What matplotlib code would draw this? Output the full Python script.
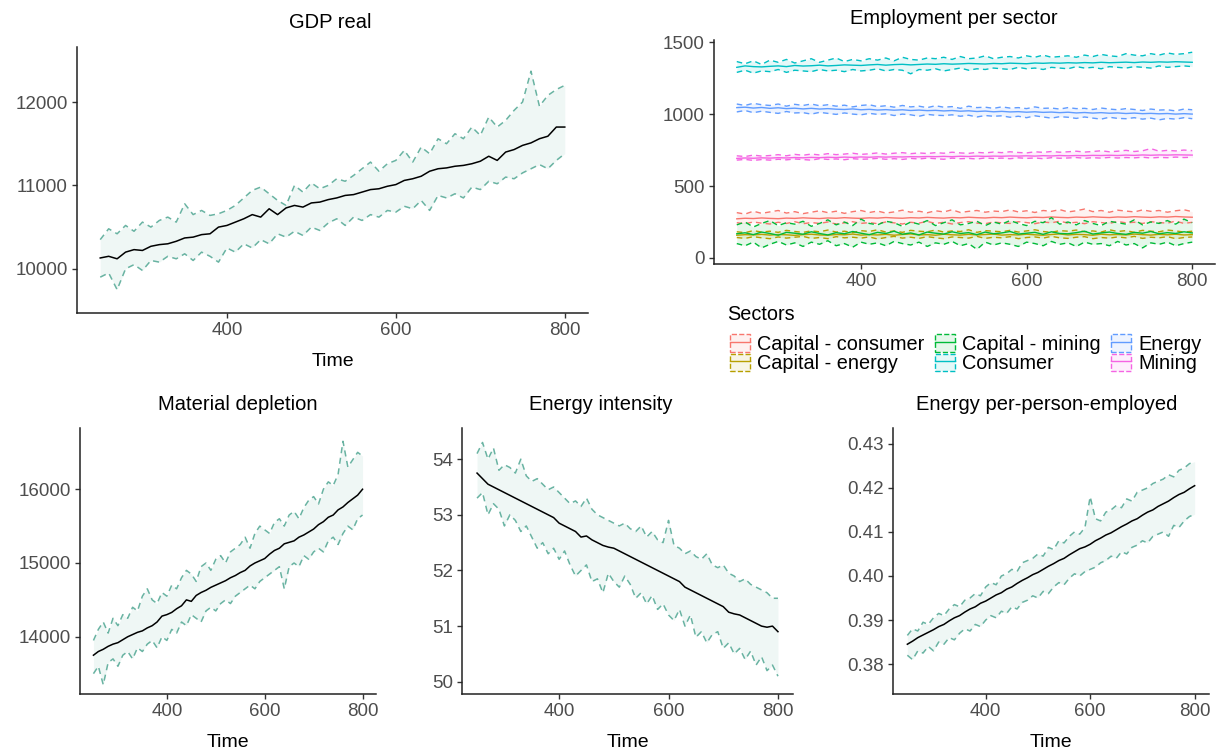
import numpy as np
import matplotlib.pyplot as plt
from matplotlib.patches import Patch
from matplotlib.lines import Line2D
from matplotlib.colors import to_rgba

plt.rcParams['font.family'] = ['Liberation Sans', 'DejaVu Sans']

# time axis (every 10 steps)
time = np.arange(250, 801, 10)

# ---- GDP real ----
gdp_mean = [10130, 10150, 10120, 10200, 10230, 10220, 10270, 10290,
            10300, 10330, 10370, 10380, 10410, 10420, 10500, 10520,
            10560, 10600, 10650, 10620, 10720, 10650, 10730, 10760,
            10740, 10790, 10800, 10830, 10850, 10880, 10890, 10920,
            10950, 10960, 10990, 11010, 11060, 11080, 11110, 11170,
            11200, 11210, 11230, 11240, 11260, 11290, 11350, 11300,
            11400, 11430, 11480, 11510, 11560, 11590, 11700, 11700]
gdp_upper = [10350, 10480, 10420, 10520, 10450, 10560, 10500, 10580,
             10620, 10560, 10780, 10650, 10700, 10640, 10660, 10700,
             10760, 10850, 10940, 10980, 10900, 10820, 10760, 11000,
             10920, 11030, 10960, 11000, 11080, 11050, 11120, 11200,
             11280, 11170, 11260, 11300, 11420, 11280, 11460, 11380,
             11560, 11500, 11620, 11560, 11700, 11600, 11820, 11700,
             11780, 11900, 12000, 12370, 11950, 12080, 12150, 12200]
gdp_lower = [9900, 9950, 9750, 10000, 10050, 9980, 10100, 10080,
             10150, 10120, 10180, 10100, 10200, 10150, 10080, 10250,
             10200, 10300, 10250, 10350, 10300, 10420, 10380, 10450,
             10400, 10500, 10460, 10550, 10600, 10520, 10620, 10580,
             10650, 10620, 10700, 10680, 10750, 10720, 10820, 10700,
             10880, 10850, 10900, 10850, 10980, 10950, 11050, 11020,
             11100, 11080, 11150, 11200, 11250, 11200, 11300, 11380]

# ---- Material depletion ----
mat_mean = [13750, 13800, 13830, 13870, 13900, 13920, 13960, 14000,
            14030, 14060, 14080, 14120, 14150, 14200, 14280, 14300,
            14330, 14380, 14420, 14500, 14480, 14560, 14600, 14630,
            14670, 14700, 14730, 14760, 14800, 14830, 14870, 14900,
            14960, 15000, 15030, 15060, 15120, 15170, 15200, 15260,
            15280, 15300, 15350, 15380, 15420, 15460, 15520, 15560,
            15620, 15650, 15720, 15760, 15820, 15870, 15920, 16000]
mat_upper = [13950, 14100, 14200, 14050, 14250, 14150, 14300, 14250,
             14400, 14350, 14550, 14650, 14500, 14450, 14600, 14550,
             14700, 14650, 14800, 14900, 14850, 14750, 14950, 15000,
             14900, 15050, 15100, 15000, 15150, 15200, 15250, 15350,
             15200, 15400, 15500, 15450, 15400, 15550, 15600, 15500,
             15650, 15700, 15600, 15750, 15850, 15900, 15800, 16000,
             16100, 16050, 16200, 16650, 16300, 16400, 16500, 16450]
mat_lower = [13500, 13600, 13350, 13650, 13700, 13600, 13750, 13800,
             13700, 13850, 13800, 13900, 13950, 13850, 14000, 13950,
             14100, 14050, 14200, 14150, 14300, 14250, 14200, 14350,
             14400, 14350, 14450, 14500, 14450, 14550, 14600, 14650,
             14700, 14650, 14750, 14800, 14850, 14900, 14950, 14650,
             14950, 15000, 14950, 15100, 15050, 15150, 15200, 15150,
             15300, 15350, 15250, 15400, 15500, 15450, 15600, 15650]

# ---- Energy intensity ----
ei_mean = [53.75, 53.65, 53.55, 53.50, 53.45, 53.40, 53.35, 53.30,
           53.25, 53.20, 53.15, 53.10, 53.05, 53.00, 52.95, 52.85,
           52.80, 52.75, 52.70, 52.60, 52.62, 52.55, 52.50, 52.45,
           52.42, 52.40, 52.35, 52.30, 52.25, 52.20, 52.15, 52.10,
           52.05, 52.00, 51.95, 51.90, 51.85, 51.80, 51.70, 51.65,
           51.60, 51.55, 51.50, 51.45, 51.40, 51.35, 51.25, 51.22,
           51.20, 51.15, 51.10, 51.05, 51.00, 50.98, 51.00, 50.90]
ei_upper = [54.10, 54.30, 54.00, 54.20, 53.80, 53.90, 53.85, 53.75,
            54.00, 53.70, 53.60, 53.65, 53.55, 53.45, 53.50, 53.40,
            53.30, 53.20, 53.25, 53.15, 53.30, 53.10, 53.00, 52.95,
            52.90, 52.85, 52.80, 52.85, 52.75, 52.70, 52.80, 52.60,
            52.70, 52.55, 52.50, 52.90, 52.45, 52.40, 52.30, 52.35,
            52.25, 52.20, 52.30, 52.10, 52.05, 52.10, 51.95, 51.90,
            51.80, 51.85, 51.75, 51.70, 51.65, 51.60, 51.50, 51.50]
ei_lower = [53.30, 53.40, 53.00, 53.20, 53.10, 52.80, 53.00, 52.90,
            52.70, 52.80, 52.60, 52.40, 52.50, 52.30, 52.40, 52.20,
            52.35, 52.10, 51.90, 52.00, 52.10, 51.80, 51.85, 51.60,
            51.95, 51.80, 51.70, 51.90, 51.75, 51.50, 51.60, 51.40,
            51.55, 51.30, 51.40, 51.20, 51.10, 51.30, 51.00, 51.20,
            50.80, 50.90, 50.70, 50.85, 50.90, 50.60, 50.70, 50.50,
            50.60, 50.40, 50.55, 50.30, 50.45, 50.20, 50.30, 50.10]

# ---- Energy per-person-employed ----
epp_mean = [0.3845, 0.3852, 0.3860, 0.3866, 0.3872, 0.3878, 0.3885, 0.3890,
            0.3898, 0.3905, 0.3910, 0.3918, 0.3925, 0.3930, 0.3938, 0.3943,
            0.3950, 0.3957, 0.3962, 0.3970, 0.3975, 0.3983, 0.3990, 0.3996,
            0.4003, 0.4008, 0.4015, 0.4022, 0.4028, 0.4035, 0.4040, 0.4048,
            0.4055, 0.4062, 0.4066, 0.4072, 0.4080, 0.4086, 0.4093, 0.4098,
            0.4105, 0.4112, 0.4118, 0.4125, 0.4130, 0.4138, 0.4145, 0.4150,
            0.4158, 0.4164, 0.4170, 0.4178, 0.4185, 0.4190, 0.4198, 0.4205]
epp_upper = [0.3865, 0.3880, 0.3875, 0.3895, 0.3890, 0.3905, 0.3915, 0.3910,
             0.3925, 0.3935, 0.3930, 0.3945, 0.3950, 0.3960, 0.3955, 0.3975,
             0.3985, 0.3980, 0.4000, 0.4005, 0.4015, 0.4010, 0.4030, 0.4035,
             0.4040, 0.4050, 0.4045, 0.4065, 0.4060, 0.4080, 0.4075, 0.4090,
             0.4100, 0.4095, 0.4110, 0.4180, 0.4130, 0.4125, 0.4145, 0.4150,
             0.4160, 0.4155, 0.4175, 0.4170, 0.4190, 0.4195, 0.4200, 0.4210,
             0.4215, 0.4220, 0.4230, 0.4225, 0.4240, 0.4245, 0.4255, 0.4260]
epp_lower = [0.3820, 0.3810, 0.3830, 0.3825, 0.3840, 0.3830, 0.3850, 0.3845,
             0.3860, 0.3855, 0.3870, 0.3880, 0.3875, 0.3890, 0.3885, 0.3900,
             0.3910, 0.3905, 0.3920, 0.3915, 0.3930, 0.3925, 0.3940, 0.3945,
             0.3955, 0.3950, 0.3965, 0.3960, 0.3975, 0.3985, 0.3980, 0.3995,
             0.4005, 0.4000, 0.4010, 0.4015, 0.4020, 0.4030, 0.4035, 0.4045,
             0.4040, 0.4055, 0.4050, 0.4065, 0.4070, 0.4080, 0.4075, 0.4090,
             0.4095, 0.4100, 0.4090, 0.4115, 0.4110, 0.4125, 0.4135, 0.4140]

# ---- Employment per sector ----
sectors = ['Capital - consumer', 'Capital - energy', 'Capital - mining',
           'Consumer', 'Energy', 'Mining']

cap_cons_mean = [272, 276, 274, 278, 275, 273, 277, 275, 279, 276, 274, 278, 276, 280,
                 277, 275, 279, 277, 281, 278, 276, 280, 278, 282, 279, 277, 281, 279,
                 283, 280, 278, 282, 280, 284, 281, 279, 283, 281, 285, 282, 280, 284,
                 282, 286, 283, 281, 285, 283, 287, 284, 282, 286, 284, 288, 285, 283]
cap_cons_upper = [315, 305, 325, 310, 320, 330, 312, 322, 308, 318, 328, 315, 325, 310,
                  322, 330, 316, 326, 312, 320, 332, 318, 325, 314, 328, 320, 335, 316,
                  324, 330, 318, 326, 322, 334, 320, 328, 316, 330, 324, 336, 320, 328,
                  340, 322, 330, 318, 332, 326, 320, 334, 324, 330, 318, 328, 335, 322]
cap_cons_lower = [245, 238, 250, 242, 236, 248, 240, 252, 238, 246, 240, 250, 236, 244,
                  252, 240, 246, 238, 250, 244, 236, 248, 242, 254, 240, 248, 236, 246,
                  252, 242, 238, 250, 244, 240, 252, 246, 238, 250, 244, 256, 242, 248,
                  238, 252, 246, 240, 254, 244, 248, 240, 252, 246, 242, 256, 240, 248]

cap_en_mean = [158, 162, 160, 164, 159, 163, 161, 157, 162, 165, 160, 158, 163, 161,
               166, 159, 162, 160, 164, 158, 163, 167, 160, 162, 158, 165, 161, 159,
               164, 160, 163, 166, 159, 162, 160, 165, 161, 158, 163, 167, 160, 164,
               162, 158, 165, 161, 163, 160, 166, 162, 159, 164, 161, 165, 160, 162]
cap_en_upper = [182, 176, 190, 180, 186, 178, 192, 184, 178, 188, 182, 194, 180, 186,
                176, 190, 184, 196, 180, 188, 178, 192, 186, 182, 194, 180, 188, 184,
                196, 178, 190, 186, 182, 192, 180, 188, 196, 184, 178, 190, 186, 194,
                182, 188, 180, 196, 184, 190, 178, 192, 186, 182, 194, 188, 180, 186]
cap_en_lower = [142, 136, 148, 140, 134, 146, 138, 144, 150, 136, 142, 134, 148, 140,
                144, 138, 146, 132, 142, 150, 138, 144, 136, 148, 140, 134, 146, 142,
                138, 150, 136, 144, 140, 148, 134, 142, 146, 138, 150, 140, 136, 144,
                148, 134, 142, 138, 146, 140, 150, 136, 144, 140, 148, 134, 142, 146]

cap_min_mean = [168, 175, 162, 180, 170, 158, 178, 172, 165, 182, 170, 160, 176, 168,
                184, 172, 162, 178, 170, 186, 165, 174, 160, 180, 172, 166, 182, 170,
                176, 162, 180, 168, 174, 184, 166, 172, 178, 164, 182, 170, 168, 176,
                186, 166, 174, 180, 170, 164, 178, 172, 184, 168, 176, 170, 182, 174]
cap_min_upper = [230, 250, 215, 240, 260, 225, 245, 235, 255, 220, 240, 265, 230, 250,
                 225, 270, 240, 230, 255, 245, 220, 250, 235, 260, 225, 245, 265, 230,
                 240, 255, 225, 250, 235, 260, 240, 225, 255, 245, 280, 235, 250, 230,
                 260, 240, 225, 255, 245, 235, 265, 230, 250, 240, 260, 235, 270, 245]
cap_min_lower = [100, 85, 110, 70, 95, 115, 90, 105, 80, 110, 95, 120, 85, 100,
                 75, 110, 95, 105, 85, 115, 100, 90, 110, 80, 105, 95, 115, 85,
                 100, 60, 110, 90, 105, 95, 80, 110, 100, 85, 115, 95, 105, 80,
                 110, 95, 100, 85, 115, 90, 100, 70, 105, 95, 110, 85, 100, 110]

cons_mean = [1325, 1335, 1330, 1328, 1332, 1335, 1330, 1338, 1334, 1336, 1340, 1335, 1338, 1342,
             1340, 1338, 1342, 1345, 1340, 1344, 1346, 1342, 1345, 1348, 1346, 1350, 1347, 1349,
             1352, 1350, 1348, 1352, 1350, 1354, 1352, 1350, 1355, 1353, 1356, 1354, 1357, 1355,
             1358, 1356, 1360, 1357, 1359, 1361, 1358, 1362, 1360, 1363, 1361, 1364, 1362, 1360]
cons_upper = [1365, 1350, 1370, 1345, 1375, 1360, 1380, 1355, 1370, 1385, 1360, 1375, 1390, 1365,
              1380, 1370, 1385, 1375, 1390, 1370, 1395, 1380, 1375, 1390, 1385, 1395, 1380, 1400,
              1385, 1390, 1405, 1385, 1395, 1400, 1390, 1405, 1395, 1410, 1395, 1400, 1405, 1395,
              1410, 1400, 1415, 1405, 1400, 1420, 1410, 1405, 1420, 1410, 1425, 1415, 1420, 1430]
cons_lower = [1290, 1305, 1285, 1300, 1295, 1310, 1290, 1305, 1300, 1295, 1310, 1300, 1305, 1295,
              1310, 1300, 1305, 1315, 1300, 1310, 1305, 1280, 1310, 1305, 1315, 1300, 1310, 1320,
              1305, 1315, 1310, 1320, 1315, 1310, 1325, 1315, 1320, 1310, 1325, 1320, 1315, 1330,
              1320, 1325, 1315, 1330, 1325, 1320, 1330, 1325, 1320, 1335, 1325, 1330, 1335, 1330]

en_mean = [1045, 1048, 1042, 1046, 1040, 1044, 1038, 1041, 1036, 1040, 1035, 1038, 1034, 1032,
           1036, 1030, 1033, 1028, 1031, 1027, 1030, 1025, 1028, 1024, 1026, 1022, 1025, 1020,
           1023, 1018, 1021, 1016, 1019, 1015, 1017, 1013, 1016, 1012, 1014, 1010, 1013, 1008,
           1011, 1007, 1010, 1006, 1008, 1004, 1007, 1003, 1005, 1002, 1004, 1000, 1003, 1000]
en_upper = [1070, 1060, 1075, 1065, 1060, 1070, 1055, 1068, 1060, 1070, 1058, 1065, 1055, 1062,
            1050, 1060, 1065, 1052, 1058, 1048, 1060, 1050, 1055, 1045, 1058, 1048, 1052, 1040,
            1055, 1045, 1048, 1040, 1050, 1042, 1045, 1038, 1050, 1040, 1042, 1035, 1045, 1038,
            1040, 1032, 1042, 1035, 1030, 1038, 1032, 1025, 1035, 1028, 1030, 1022, 1035, 1030]
en_lower = [1015, 1025, 1010, 1020, 1012, 1005, 1018, 1008, 1010, 1000, 1012, 1005, 998, 1008,
            1000, 995, 1005, 998, 1002, 990, 1000, 995, 985, 998, 992, 990, 995, 985,
            992, 980, 990, 985, 988, 978, 985, 975, 988, 980, 972, 982, 978, 970,
            980, 972, 965, 978, 970, 968, 975, 965, 972, 960, 970, 965, 975, 968]

min_mean = [692, 695, 693, 696, 694, 697, 695, 698, 696, 699, 697, 700, 698, 701,
            699, 702, 700, 703, 701, 703, 702, 704, 703, 705, 704, 706, 704, 707,
            705, 708, 706, 708, 707, 709, 708, 710, 708, 711, 709, 712, 710, 712,
            711, 713, 712, 714, 712, 715, 713, 716, 714, 716, 715, 717, 716, 715]
min_upper = [710, 705, 715, 708, 712, 718, 710, 720, 714, 722, 716, 725, 718, 722,
             728, 720, 724, 730, 722, 728, 732, 725, 730, 726, 732, 728, 735, 730,
             727, 734, 730, 736, 732, 738, 733, 730, 738, 734, 740, 735, 738, 742,
             736, 740, 745, 738, 742, 748, 740, 745, 760, 742, 748, 744, 750, 746]
min_lower = [680, 685, 678, 684, 680, 686, 682, 688, 684, 680, 690, 685, 688, 683,
             690, 686, 688, 692, 686, 690, 685, 692, 688, 694, 690, 686, 694, 690,
             692, 688, 695, 691, 694, 690, 696, 692, 695, 690, 697, 693, 695, 698,
             693, 697, 694, 699, 695, 698, 696, 700, 695, 699, 697, 701, 698, 700]

sector_colors = ['#F8766D', '#B79F00', '#00BA38', '#00BFC4', '#619CFF', '#F564E3']
sector_data = [(cap_cons_mean, cap_cons_upper, cap_cons_lower),
               (cap_en_mean, cap_en_upper, cap_en_lower),
               (cap_min_mean, cap_min_upper, cap_min_lower),
               (cons_mean, cons_upper, cons_lower),
               (en_mean, en_upper, en_lower),
               (min_mean, min_upper, min_lower)]

W, H = 1221, 751
band_col = '#69b3a2'
dash = (0, (4, 3))


def px_axes(fig, left, right, top, bottom):
    return fig.add_axes([left / W, 1 - bottom / H, (right - left) / W, (bottom - top) / H])


def style(ax, ylim, yticks, yfmt=None):
    ax.set_xlim(222.5, 827.5)
    ax.set_ylim(*ylim)
    ax.set_xticks([400, 600, 800])
    ax.set_yticks(yticks)
    if yfmt:
        ax.set_yticklabels([yfmt.format(v) for v in yticks])
    for s in ['top', 'right']:
        ax.spines[s].set_visible(False)
    for s in ['left', 'bottom']:
        ax.spines[s].set_linewidth(1.1)
        ax.spines[s].set_color('#222222')
    ax.tick_params(length=3.5, width=1, color='#333333', labelcolor='#4D4D4D',
                   labelsize=13.5, pad=3)
    ax.set_xlabel('Time', fontsize=14, color='black', labelpad=10)


def band_panel(ax, mean, upper, lower):
    ax.fill_between(time, lower, upper, color=band_col, alpha=0.1, lw=0)
    ax.plot(time, upper, color=band_col, lw=1.1, ls=dash)
    ax.plot(time, lower, color=band_col, lw=1.1, ls=dash)
    ax.plot(time, mean, color='black', lw=1.1)


fig = plt.figure(figsize=(W / 100, H / 100), dpi=100)

# GDP real
ax1 = px_axes(fig, 77, 588, 47, 313)
band_panel(ax1, gdp_mean, gdp_upper, gdp_lower)
style(ax1, (9470, 12660), [10000, 11000, 12000])
fig.text(330 / W, 1 - 23 / H, 'GDP real', ha='center', va='center', fontsize=14.5)

# Employment per sector
ax2 = px_axes(fig, 714, 1215, 40, 264)
for (m, u, l), c in zip(sector_data, sector_colors):
    ax2.fill_between(time, l, u, color=c, alpha=0.1, lw=0)
    ax2.plot(time, u, color=c, lw=1.0, ls=dash)
    ax2.plot(time, l, color=c, lw=1.0, ls=dash)
    ax2.plot(time, m, color=c, lw=1.0)
style(ax2, (-42, 1515), [0, 500, 1000, 1500])
ax2.set_xlabel('')
fig.text(954 / W, 1 - 18 / H, 'Employment per sector', ha='center', va='center', fontsize=14.5)

# legend below the employment panel
fig.text(727 / W, 1 - 315 / H, 'Sectors', ha='left', va='center', fontsize=14.3)
handles = [(Patch(facecolor=to_rgba(c, 0.1), edgecolor=c, linestyle='--', lw=1),
            Line2D([], [], color=c, lw=1)) for c in sector_colors]
leg = fig.legend(handles, sectors, loc='upper left', bbox_to_anchor=(716 / W, 1 - 320 / H),
                 ncol=3, frameon=False, fontsize=14.3,
                 handlelength=1.0, handleheight=1.0, handletextpad=0.35,
                 columnspacing=0.55, labelspacing=0.0, borderpad=0.2)

# Material depletion
ax3 = px_axes(fig, 80, 376, 428, 694)
band_panel(ax3, mat_mean, mat_upper, mat_lower)
style(ax3, (13224, 16830), [14000, 15000, 16000])
fig.text(238 / W, 1 - 405 / H, 'Material depletion', ha='center', va='center', fontsize=14.5)

# Energy intensity
ax4 = px_axes(fig, 462, 793, 428, 694)
band_panel(ax4, ei_mean, ei_upper, ei_lower)
style(ax4, (49.78, 54.56), [50, 51, 52, 53, 54])
fig.text(601 / W, 1 - 405 / H, 'Energy intensity', ha='center', va='center', fontsize=14.5)

# Energy per-person-employed
ax5 = px_axes(fig, 893, 1209, 428, 694)
band_panel(ax5, epp_mean, epp_upper, epp_lower)
style(ax5, (0.3732, 0.4336), [0.38, 0.39, 0.40, 0.41, 0.42, 0.43], '{:.2f}')
fig.text(1047 / W, 1 - 405 / H, 'Energy per-person-employed', ha='center', va='center', fontsize=14.5)

fig.savefig('out.png', dpi=100)
